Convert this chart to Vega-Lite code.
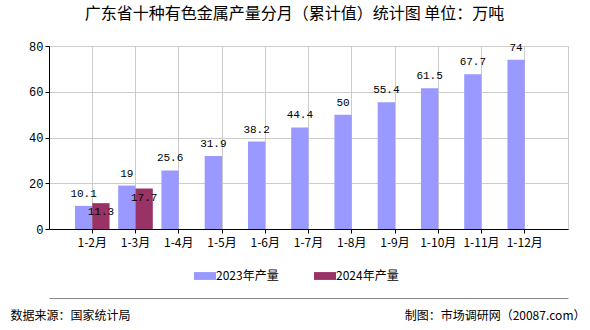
{
  "$schema": "https://vega.github.io/schema/vega-lite/v6.json",
  "width": 519,
  "height": 183,
  "autosize": {"type": "none"},
  "padding": {"left": 49, "top": 46, "right": 22, "bottom": 101},
  "background": "white",
  "title": {
    "text": "广东省十种有色金属产量分月（累计值）统计图 单位：万吨",
    "font": "Noto Sans CJK SC",
    "fontSize": 16,
    "fontWeight": "normal",
    "color": "#000000",
    "anchor": "middle",
    "dx": -14,
    "offset": 18
  },
  "config": {
    "view": {"stroke": "#cccccc", "strokeWidth": 1},
    "font": "Noto Sans CJK SC"
  },
  "data": {
    "values": [
      {"month": "1-2月", "series": "2023年产量", "value": 10.1},
      {"month": "1-2月", "series": "2024年产量", "value": 11.3},
      {"month": "1-3月", "series": "2023年产量", "value": 19},
      {"month": "1-3月", "series": "2024年产量", "value": 17.7},
      {"month": "1-4月", "series": "2023年产量", "value": 25.6},
      {"month": "1-5月", "series": "2023年产量", "value": 31.9},
      {"month": "1-6月", "series": "2023年产量", "value": 38.2},
      {"month": "1-7月", "series": "2023年产量", "value": 44.4},
      {"month": "1-8月", "series": "2023年产量", "value": 50},
      {"month": "1-9月", "series": "2023年产量", "value": 55.4},
      {"month": "1-10月", "series": "2023年产量", "value": 61.5},
      {"month": "1-11月", "series": "2023年产量", "value": 67.7},
      {"month": "1-12月", "series": "2023年产量", "value": 74}
    ]
  },
  "encoding": {
    "xOffset": {
      "field": "series",
      "type": "nominal",
      "sort": ["2023年产量", "2024年产量"],
      "scale": {"domain": ["2023年产量", "2024年产量"], "paddingInner": 0, "paddingOuter": 0}
    },
    "y": {
      "field": "value",
      "type": "quantitative",
      "scale": {"domain": [0, 80]},
      "axis": {
        "values": [0, 20, 40, 60, 80],
        "title": "制图：市场调研网（20087.com）",
        "titleAngle": 0,
        "titleX": 536,
        "titleY": 269,
        "titleAlign": "right",
        "titleBaseline": "middle",
        "titleFontSize": 12,
        "titleFontWeight": "normal",
        "titleColor": "#000000",
        "labelFontSize": 12,
        "labelColor": "#000000",
        "labelFont": "Liberation Mono",
        "domainColor": "#000000",
        "tickColor": "#000000",
        "tickSize": 4,
        "gridColor": "#cccccc"
      }
    }
  },
  "layer": [
    {
      "mark": {"type": "bar"},
      "encoding": {
        "x": {
          "field": "month",
          "type": "nominal",
          "sort": ["1-2月","1-3月","1-4月","1-5月","1-6月","1-7月","1-8月","1-9月","1-10月","1-11月","1-12月"],
          "scale": {"paddingInner": 0.2, "paddingOuter": 0.6},
          "axis": {
            "title": "数据来源：国家统计局",
            "titleX": -39,
            "titleY": 86,
            "titleAnchor": "start",
            "titleAlign": "left",
            "titleBaseline": "middle",
            "titleFontSize": 12,
            "titleFontWeight": "normal",
            "titleColor": "#000000",
            "labelAngle": 0,
            "labelFontSize": 12,
            "labelColor": "#000000",
            "labelPadding": 4,
            "domainColor": "#000000",
            "tickColor": "#000000",
            "tickSize": 4,
            "bandPosition": 0.5,
            "grid": true,
            "gridColor": "#cccccc"
          }
        },
        "color": {
          "field": "series",
          "type": "nominal",
          "scale": {"domain": ["2023年产量", "2024年产量"], "range": ["#9999ff", "#993366"]},
          "legend": {
            "title": null,
            "orient": "none",
            "direction": "horizontal",
            "legendX": 148,
            "legendY": 222,
            "symbolType": "M-1.4,-0.5H1.4V0.5H-1.4Z",
            "symbolSize": 247,
            "symbolStrokeWidth": 0,
            "labelFontSize": 12,
            "labelColor": "#000000",
            "labelOffset": 3,
            "columnPadding": 34
          }
        }
      }
    },
    {
      "transform": [{"filter": "datum.series == '2023年产量'"}],
      "mark": {"type": "text", "dy": -12, "font": "Liberation Mono", "fontSize": 11, "color": "#000000"},
      "encoding": {
        "x": {
          "field": "month",
          "type": "nominal",
          "sort": ["1-2月","1-3月","1-4月","1-5月","1-6月","1-7月","1-8月","1-9月","1-10月","1-11月","1-12月"],
          "axis": null
        },
        "text": {"field": "value", "type": "quantitative"}
      }
    },
    {
      "transform": [{"filter": "datum.series == '2024年产量'"}],
      "mark": {"type": "text", "dy": 9, "font": "Liberation Mono", "fontSize": 11, "color": "#000000"},
      "encoding": {
        "text": {"field": "value", "type": "quantitative"},
        "x": {
          "field": "month",
          "type": "nominal",
          "sort": ["1-2月","1-3月","1-4月","1-5月","1-6月","1-7月","1-8月","1-9月","1-10月","1-11月","1-12月"],
          "axis": {
            "orient": "bottom",
            "offset": 69,
            "labels": false,
            "ticks": false,
            "grid": false,
            "title": null,
            "domainColor": "#888888",
            "domainWidth": 1
          }
        }
      }
    }
  ],
  "resolve": {"axis": {"x": "independent"}}
}
